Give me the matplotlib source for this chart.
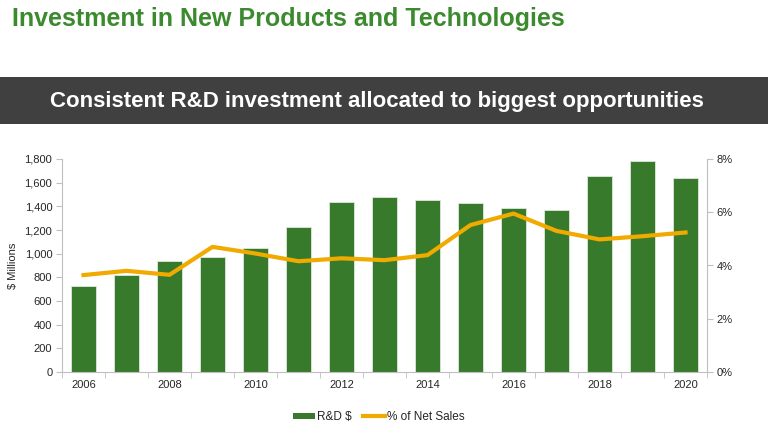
import numpy as np
import matplotlib.pyplot as plt
from matplotlib.patches import Rectangle
from matplotlib.lines import Line2D

plt.rcParams['font.family'] = ['Liberation Sans', 'DejaVu Sans']

years = [2006, 2007, 2008, 2009, 2010, 2011, 2012, 2013, 2014, 2015, 2016, 2017, 2018, 2019, 2020]
rd_spend = [725, 816, 939, 976, 1049, 1222, 1433, 1475, 1450, 1425, 1385, 1368, 1656, 1780, 1641]
pct_sales = [3.64, 3.80, 3.65, 4.70, 4.45, 4.16, 4.27, 4.20, 4.39, 5.52, 5.95, 5.30, 4.98, 5.10, 5.24]

green = '#387a2b'
orange = '#f0aa00'
grey = '#bfbfbf'
txt = '#262626'

fig = plt.figure(figsize=(7.68, 4.36), dpi=100)
fig.patch.set_facecolor('white')

# headline + dark banner
fig.text(12 / 768, 1 - 19 / 436, 'Investment in New Products and Technologies',
         color='#3b8a2e', fontsize=18, fontweight='bold', ha='left', va='center')
fig.patches.append(Rectangle((0, 1 - 124 / 436), 1, 47 / 436, transform=fig.transFigure,
                             facecolor='#404040', edgecolor='none', zorder=0))
fig.text(377 / 768, 1 - 101 / 436, 'Consistent R&D investment allocated to biggest opportunities',
         color='white', fontsize=16, fontweight='bold', ha='center', va='center')

ax = fig.add_axes([62 / 768, 1 - 372 / 436, (707 - 62) / 768, (372 - 159) / 436])
x = np.arange(len(years))
ax.bar(x, rd_spend, width=0.56, color=green, edgecolor='#dfe9dc', linewidth=0.6, zorder=2)
ax.set_xlim(-0.5, len(years) - 0.5)
ax.set_ylim(0, 1800)
ax.set_yticks(np.arange(0, 1801, 200))
ax.set_yticklabels([f'{v:,}' for v in range(0, 1801, 200)])
ax.set_xticks(x[::2])
ax.set_xticklabels([str(y) for y in years[::2]])
ax.set_xticks(np.arange(-0.5, len(years), 1), minor=True)
ax.tick_params(axis='x', which='major', length=0, pad=6)
ax.tick_params(axis='x', which='minor', length=4, color=grey)
ax.tick_params(axis='y', length=4, color=grey, labelsize=8, labelcolor=txt, pad=3)
ax.tick_params(axis='x', labelsize=8, labelcolor=txt)
for s in ['top', 'right']:
    ax.spines[s].set_visible(False)
for s in ['left', 'bottom']:
    ax.spines[s].set_color(grey)
ax.set_ylabel('$ Millions', fontsize=8, color=txt, labelpad=5)

ax2 = ax.twinx()
ax2.plot(x, pct_sales, color=orange, linewidth=3, zorder=3, solid_joinstyle='round')
ax2.set_ylim(0, 8)
ax2.set_yticks(np.arange(0, 9, 2))
ax2.set_yticklabels([f'{v}%' for v in range(0, 9, 2)])
ax2.tick_params(axis='y', length=4, color=grey, labelsize=8, labelcolor=txt, pad=3)
for s in ['top', 'left', 'bottom']:
    ax2.spines[s].set_visible(False)
ax2.spines['right'].set_color(grey)

handles = [Rectangle((0, 0), 1, 1, facecolor=green, edgecolor='none'),
           Line2D([0], [0], color=orange, linewidth=3)]
fig.legend(handles, ['R&D $', '% of Net Sales'], loc='center', bbox_to_anchor=(379 / 768, 1 - 417 / 436),
           ncol=2, frameon=False, fontsize=8.5, handlelength=1.8, handleheight=0.45,
           columnspacing=1.0, handletextpad=0.2, labelcolor=txt)

fig.savefig('out.png', dpi=100)
